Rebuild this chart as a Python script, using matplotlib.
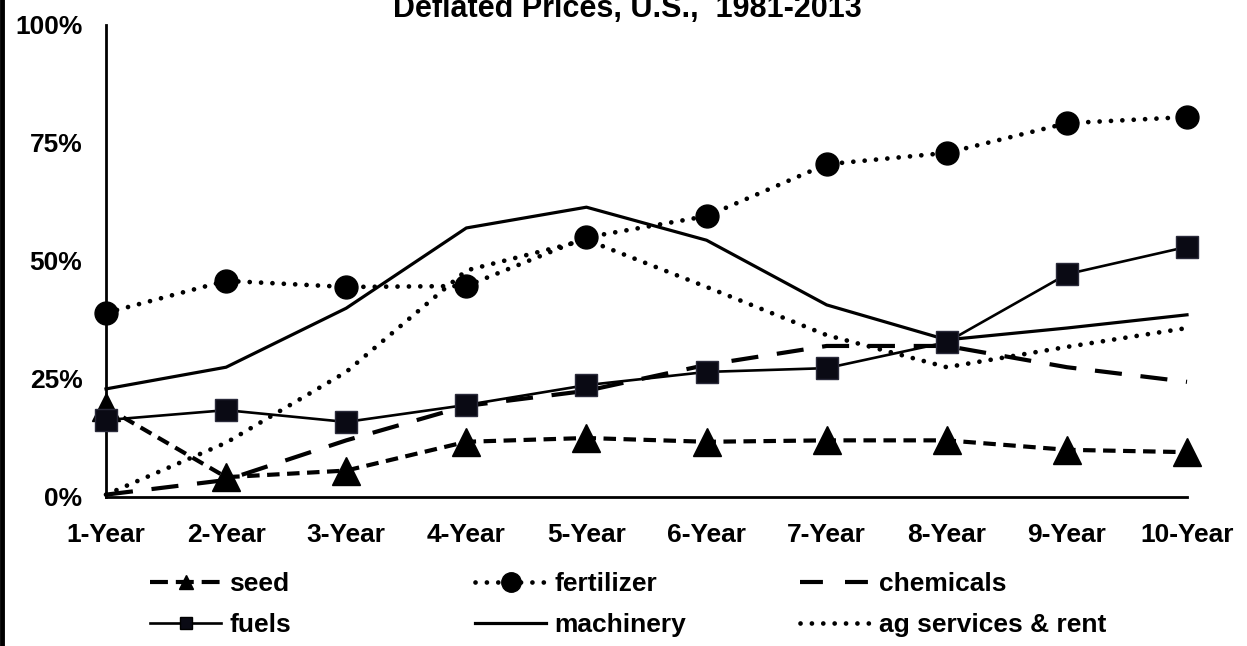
import numpy as np
from matplotlib import pyplot as plt
from matplotlib.lines import Line2D
from matplotlib.ticker import FuncFormatter

plt.rcParams['font.family'] = ['Liberation Sans', 'DejaVu Sans']
plt.rcParams['font.weight'] = 'bold'

# Data (percent)
periods = ["1-Year", "2-Year", "3-Year", "4-Year", "5-Year",
           "6-Year", "7-Year", "8-Year", "9-Year", "10-Year"]
seed = [19.0, 4.2, 5.6, 11.7, 12.5, 11.7, 12.0, 12.0, 10.0, 9.5]
fertilizer = [39.0, 45.8, 44.5, 44.7, 55.0, 59.5, 70.5, 72.9, 79.2, 80.5]
chemicals = [0.5, 3.6, 12.0, 19.3, 22.5, 28.0, 32.0, 32.0, 27.5, 24.4]
fuels = [16.3, 18.4, 15.9, 19.5, 23.7, 26.5, 27.3, 32.8, 47.2, 53.0]
machinery = [22.9, 27.5, 40.0, 57.0, 61.4, 54.4, 40.7, 33.3, 35.8, 38.6]
ag_services = [0.5, 11.5, 26.5, 48.0, 54.5, 44.5, 34.3, 27.5, 31.8, 35.8]

x = np.arange(len(periods))

fig = plt.figure(figsize=(12.47, 6.46), dpi=100)
ax = fig.add_axes([106/1247, 1 - 497/646, (1187 - 106)/1247, (497 - 25)/646])

dot = (0, (0.01, 2.4))
ax.plot(x, ag_services, color="black", lw=3.4, linestyle=dot,
        dash_capstyle="round", clip_on=False, zorder=2)
ax.plot(x, machinery, color="black", lw=2.3, clip_on=False, zorder=2)
ax.plot(x, chemicals, color="black", lw=3.0, linestyle=(0, (6.5, 4.5)),
        clip_on=False, zorder=2)
ax.plot(x, fertilizer, color="black", lw=3.4, linestyle=dot,
        dash_capstyle="round", marker="o", markersize=16.5,
        clip_on=False, zorder=3)
ax.plot(x, seed, color="black", lw=3.0, linestyle=(0, (3.0, 1.8)),
        marker="^", markersize=20, clip_on=False, zorder=3)
ax.plot(x, fuels, color="black", lw=1.9, marker="s", markersize=15.5,
        markerfacecolor="#0a0a14", markeredgecolor="#2a2a3a",
        clip_on=False, zorder=4)

ax.set_xlim(0, 9)
ax.set_ylim(0, 100)
ax.set_yticks([0, 25, 50, 75, 100])
ax.yaxis.set_major_formatter(FuncFormatter(lambda v, p: "%d%%" % v))
ax.set_xticks(x)
ax.set_xticklabels(periods)
ax.tick_params(axis="both", length=0, labelsize=19)
ax.tick_params(axis="y", pad=17)
ax.tick_params(axis="x", pad=19)
for s in ["top", "right"]:
    ax.spines[s].set_visible(False)
for s in ["left", "bottom"]:
    ax.spines[s].set_linewidth(2.0)

# title is cut at the top edge, as in the original image
fig.text(627/1247, 1 - 17/646, "Deflated Prices, U.S.,  1981-2013",
         ha="center", va="baseline", fontsize=22, fontweight="bold")

# Legend entries placed one by one (Excel-style fixed columns)
handles = [
    (Line2D([], [], color="black", lw=3.0, linestyle=(0, (4.3, 1.9)),
            marker="^", markersize=10), "seed", 150, 584),
    (Line2D([], [], color="black", lw=3.4, linestyle=dot,
            dash_capstyle="round", marker="o", markersize=14),
     "fertilizer", 475, 584),
    (Line2D([], [], color="black", lw=3.0, linestyle=(0, (5.5, 5.3))),
     "chemicals", 800, 584),
    (Line2D([], [], color="black", lw=1.9, marker="s", markersize=9,
            markerfacecolor="#0a0a14"), "fuels", 150, 625),
    (Line2D([], [], color="black", lw=2.3), "machinery", 475, 625),
    (Line2D([], [], color="black", lw=3.4, linestyle=dot,
            dash_capstyle="round"), "ag services & rent", 800, 625),
]
for h, lab, px, py in handles:
    leg = fig.legend([h], [lab], loc="center left",
                     bbox_to_anchor=(px/1247, 1 - py/646),
                     frameon=False, fontsize=19, handlelength=2.7,
                     handletextpad=0.3, borderpad=0, borderaxespad=0)
    for t in leg.get_texts():
        t.set_fontweight("bold")

fig.add_artist(Line2D([0.002, 0.002], [0, 1], color="black", lw=3.5,
                      transform=fig.transFigure))

fig.savefig("out.png", dpi=100)
